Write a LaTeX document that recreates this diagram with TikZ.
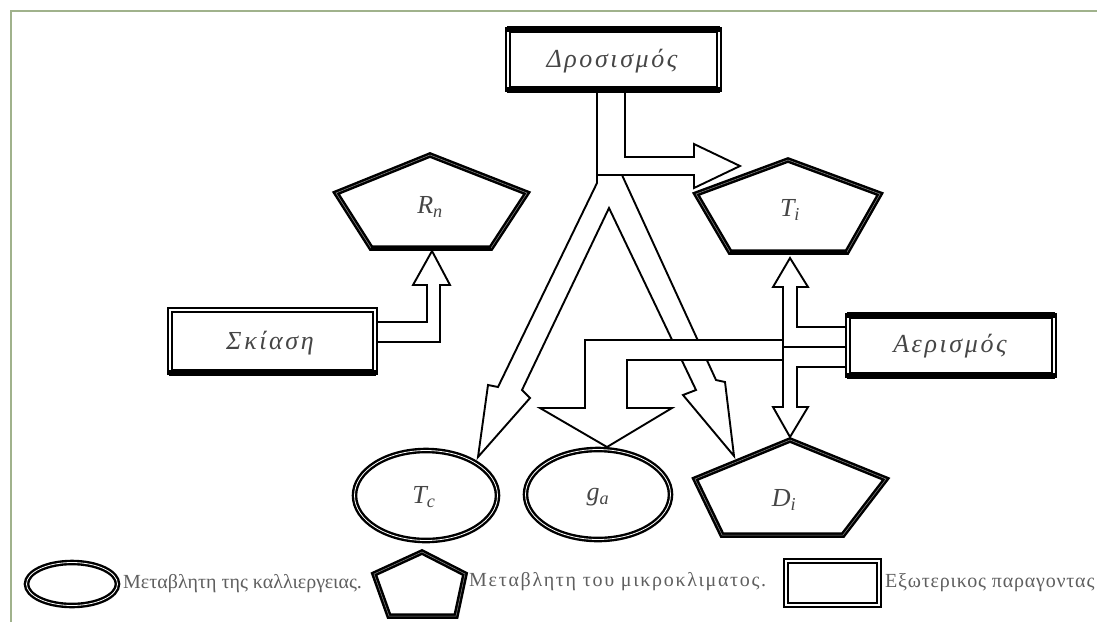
\documentclass[tikz,border=0pt]{standalone}
\usepackage{fontspec}
\setmainfont{Liberation Serif}
\usetikzlibrary{calc}
\definecolor{framec}{RGB}{160,178,140}
\definecolor{txt}{RGB}{70,70,70}
\definecolor{legtxt}{RGB}{95,95,95}
\tikzset{
  factor/.style={draw=black, double=white, double distance=2pt, line width=1.8pt, fill=white, inner sep=0pt, rectangle},
  solidedge/.style={line width=5.8pt, line cap=butt},
  pent/.style={draw=black, double=black!45, double distance=0.5pt, line width=2.5pt, fill=white, line join=miter},
  oval/.style={draw=black, double=white, double distance=0.8pt, line width=2.4pt, fill=white},
  barrow/.style={draw=black, fill=white, line width=1.9pt, line join=miter},
  lbl/.style={text=txt, font=\fontsize{26}{30}\selectfont\itshape},
  boxlbl/.style={text=txt, font=\fontsize{26}{30}\selectfont\itshape\addfontfeature{LetterSpace=10}},
  leg/.style={text=legtxt, font=\fontsize{20}{24}\selectfont, anchor=west, inner sep=0pt}
}
\begin{document}
\begin{tikzpicture}[x=1pt,y=-1pt]
\useasboundingbox (0,0) rectangle (1097,622);
\fill[white] (0,0) rectangle (1097,622);
\draw[framec, line width=1.3pt] (11,622) -- (11,11) -- (1097,11);

% --- block arrows from Drosismos ---
\draw[barrow] (597,88) -- (597,175) -- (694,175) -- (694,188) -- (740,166) -- (694,144) -- (694,157) -- (625,157) -- (625,88) -- cycle;
\draw[barrow] (597,175) -- (597,183) -- (498,387) -- (488,385) -- (478,457) -- (530,398) -- (522,390)
   -- (609,208) -- (696,390) -- (683,395) -- (734,456) -- (725,382) -- (716,380) -- (622,175) -- cycle;
% --- arrow from Skiasi ---
\draw[barrow] (372,322) -- (427,322) -- (427,285) -- (413,285) -- (432,251) -- (450,285) -- (440,285) -- (440,342) -- (372,342) -- cycle;
% --- arrows from Aerismos ---
\fill[white] (783,340) -- (585,340) -- (585,408) -- (540,408) -- (607,447) -- (672,408) -- (627,408) -- (627,360) -- (783,360) -- cycle;
\draw[barrow, fill=none] (783,340) -- (585,340) -- (585,408) -- (540,408) -- (607,447) -- (672,408) -- (627,408) -- (627,360) -- (783,360);
\draw[barrow] (783,347) -- (783,287) -- (773,287) -- (790,258) -- (808,287) -- (797,287) -- (797,327) -- (849,327) -- (849,347) -- cycle;
\draw[barrow] (783,347) -- (783,407) -- (773,407) -- (790,437) -- (808,407) -- (797,407) -- (797,367) -- (849,367) -- (849,347) -- cycle;

% --- microclimate variables (pentagons) ---
\draw[pent] (430,155) -- (527,193) -- (491,248) -- (371,248) -- (336,193) -- cycle;
\draw[pent] (788,160) -- (880,194) -- (847,252) -- (730,252) -- (696,194) -- cycle;
\draw[pent] (790,440) -- (886,479) -- (843,535) -- (722,535) -- (695,479) -- cycle;
\draw[solidedge, line width=5pt] (371,248) -- (491,248);
\draw[solidedge, line width=5pt] (730,252) -- (847,252);
\node[lbl] (Rn) at (430,207) {R\textsubscript{n}};
\node[lbl] (Ti) at (790,210) {T\textsubscript{i}};
\node[lbl] (Di) at (784,500) {D\textsubscript{i}};

% --- crop variables (ellipses) ---
\draw[oval] (426,495.5) ellipse [x radius=71.5, y radius=45];
\draw[oval] (598,494.5) ellipse [x radius=72.5, y radius=45];
\node[lbl] (Tc) at (424,497) {T\textsubscript{c}};
\node[lbl] (ga) at (598,497) {g\textsubscript{a}};

% --- external factors (boxes) ---
\node[factor, minimum width=211pt, minimum height=59pt] (Dro) at (613.5,59.5) {};
\node[factor, minimum width=205pt, minimum height=62pt] (Ski) at (272.5,341) {};
\node[factor, minimum width=206pt, minimum height=59pt] (Aer) at (951,345.5) {};
\draw[solidedge] (Dro.north west) -- (Dro.north east);
\draw[solidedge] (Dro.south west) -- (Dro.south east);
\draw[solidedge] (Aer.north west) -- (Aer.north east);
\draw[solidedge] (Aer.south west) -- (Aer.south east);
\draw[solidedge] (Ski.south west) -- (Ski.south east);
\node[boxlbl] at (612,61) {Δροσισμός};
\node[boxlbl] at (270,343) {Σκίαση};
\node[boxlbl] at (950,346) {Αερισμός};

% --- legend ---
\draw[oval] (72,584) ellipse [x radius=45.5, y radius=21.5];
\node[leg] (L1) at (123,584) {Μεταβλητη της καλλιεργειας.};
\draw[pent] (422,552) -- (465,574) -- (456,616) -- (389,616) -- (374,574) -- cycle;
\node[leg, font=\fontsize{20}{24}\selectfont\addfontfeature{LetterSpace=8.5}] (L2) at (469,582) {Μεταβλητη του μικροκλιματος.};
\node[factor, minimum width=93pt, minimum height=44pt] (LB) at (832.5,583) {};
\node[leg, font=\fontsize{20}{24}\selectfont\addfontfeature{LetterSpace=4}] (L3) at (885,583) {Εξωτερικος παραγοντας};
\end{tikzpicture}
\end{document}
